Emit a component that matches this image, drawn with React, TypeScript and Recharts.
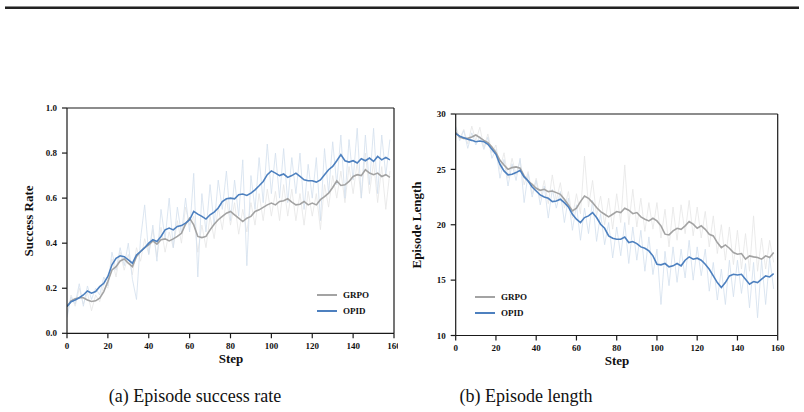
import React from 'react';
import { LineChart, Line, XAxis, YAxis, ReferenceLine, Legend } from 'recharts';

// ---------- data (every 2 steps: 0,2,...,158) ----------
const successOpid = [
  0.119, 0.14, 0.148, 0.158, 0.17, 0.188, 0.178, 0.185, 0.207, 0.222,
  0.252, 0.304, 0.333, 0.344, 0.34, 0.326, 0.311, 0.348, 0.363, 0.38,
  0.40, 0.415, 0.407, 0.43, 0.459, 0.467, 0.459, 0.474, 0.478, 0.489,
  0.504, 0.541, 0.529, 0.519, 0.507, 0.526, 0.538, 0.556, 0.585, 0.597,
  0.60, 0.597, 0.615, 0.618, 0.612, 0.622, 0.637, 0.655, 0.674, 0.704,
  0.721, 0.711, 0.70, 0.707, 0.692, 0.70, 0.711, 0.696, 0.681, 0.677,
  0.677, 0.671, 0.681, 0.704, 0.726, 0.741, 0.766, 0.793, 0.766, 0.76,
  0.766, 0.756, 0.775, 0.766, 0.778, 0.763, 0.785, 0.77, 0.781, 0.77,
];
const successGrpo = [
  0.119, 0.144, 0.153, 0.158, 0.158, 0.148, 0.141, 0.144, 0.156, 0.185,
  0.23, 0.281, 0.296, 0.321, 0.33, 0.311, 0.296, 0.341, 0.363, 0.38,
  0.393, 0.41, 0.396, 0.415, 0.419, 0.41, 0.419, 0.43, 0.444, 0.484,
  0.511, 0.481, 0.43, 0.425, 0.43, 0.459, 0.484, 0.504, 0.519, 0.533,
  0.541, 0.526, 0.511, 0.496, 0.511, 0.519, 0.541, 0.548, 0.559, 0.57,
  0.578, 0.57, 0.585, 0.588, 0.597, 0.582, 0.57, 0.573, 0.585, 0.57,
  0.578, 0.57, 0.593, 0.607, 0.622, 0.647, 0.677, 0.656, 0.659, 0.674,
  0.696, 0.704, 0.70, 0.726, 0.711, 0.704, 0.711, 0.696, 0.704, 0.692,
];
const successOpidRaw = [
  0.07, 0.16, 0.13, 0.22, 0.12, 0.21, 0.15, 0.2, 0.17, 0.25,
  0.21, 0.36, 0.28, 0.38, 0.3, 0.4, 0.24, 0.15, 0.42, 0.57,
  0.35, 0.48, 0.32, 0.55, 0.42, 0.6, 0.38, 0.56, 0.44, 0.6,
  0.45, 0.71, 0.25, 0.62, 0.45, 0.66, 0.48, 0.68, 0.55, 0.72,
  0.5, 0.68, 0.52, 0.77, 0.3, 0.7, 0.55, 0.78, 0.58, 0.84,
  0.62, 0.8, 0.6, 0.82, 0.58, 0.78, 0.62, 0.8, 0.55, 0.75,
  0.6, 0.78, 0.5, 0.82, 0.62, 0.85, 0.66, 0.88, 0.6, 0.86,
  0.68, 0.91, 0.6, 0.88, 0.66, 0.91, 0.62, 0.88, 0.7, 0.86,
];
const successGrpoRaw = [
  0.08, 0.17, 0.12, 0.2, 0.13, 0.18, 0.1, 0.17, 0.14, 0.22,
  0.2, 0.33, 0.25, 0.36, 0.28, 0.35, 0.26, 0.38, 0.32, 0.42,
  0.35, 0.46, 0.34, 0.47, 0.36, 0.45, 0.38, 0.5, 0.4, 0.56,
  0.48, 0.52, 0.36, 0.48, 0.38, 0.52, 0.42, 0.56, 0.46, 0.6,
  0.48, 0.58, 0.44, 0.55, 0.45, 0.58, 0.48, 0.62, 0.5, 0.64,
  0.52, 0.63, 0.5, 0.66, 0.52, 0.64, 0.5, 0.62, 0.48, 0.63,
  0.52, 0.62, 0.46, 0.66, 0.56, 0.7, 0.6, 0.72, 0.58, 0.74,
  0.62, 0.76, 0.6, 0.8, 0.62, 0.76, 0.58, 0.74, 0.55, 0.72,
];

const lengthOpid = [
  28.23, 28.0, 27.86, 27.71, 27.62, 27.5, 27.56, 27.5, 27.26, 26.81,
  26.36, 25.46, 24.86, 24.5, 24.56, 24.71, 24.92, 24.32, 23.95, 23.41,
  23.05, 22.69, 22.51, 22.39, 22.09, 22.15, 22.3, 22.0, 21.61, 20.95,
  20.5, 20.2, 20.65, 20.8, 21.1, 20.65, 20.05, 19.68, 18.99, 18.78,
  18.69, 18.69, 18.9, 18.39, 18.48, 18.3, 18.0, 17.88, 17.64, 17.19,
  16.44, 16.38, 16.5, 16.2, 16.29, 16.5, 16.29, 16.8, 17.1, 16.89,
  16.98, 16.8, 16.44, 15.98, 15.38, 14.78, 14.33, 14.78, 15.38, 15.53,
  15.47, 15.53, 15.08, 14.63, 14.87, 14.78, 15.08, 15.38, 15.29, 15.59,
];
const lengthGrpo = [
  28.32, 27.92, 27.8, 27.8, 27.92, 28.1, 27.86, 27.62, 27.41, 27.02,
  26.51, 25.82, 25.4, 25.0, 25.16, 25.22, 25.1, 24.41, 23.95, 23.65,
  23.29, 23.11, 23.2, 22.99, 23.05, 22.9, 22.75, 22.3, 21.79, 21.25,
  21.49, 22.09, 22.6, 22.39, 22.0, 21.55, 21.19, 20.95, 20.71, 20.95,
  21.19, 21.1, 21.49, 21.31, 21.0, 21.1, 20.71, 20.5, 20.35, 20.59,
  20.35, 19.9, 19.15, 19.08, 19.44, 19.68, 19.59, 19.9, 20.29, 20.05,
  19.68, 19.9, 19.59, 19.14, 18.99, 18.39, 17.94, 18.18, 17.88, 17.49,
  17.34, 17.4, 16.89, 17.19, 17.1, 17.04, 16.89, 17.19, 17.04, 17.49,
];
const lengthOpidRaw = [
  28.8, 27.6, 28.5, 26.9, 28.3, 27.2, 28.0, 26.8, 27.9, 26.0,
  26.8, 24.2, 25.9, 23.5, 25.5, 24.0, 26.0, 22.0, 24.6, 22.5,
  24.0, 21.8, 23.5, 20.6, 23.2, 21.5, 23.0, 20.2, 22.4, 19.5,
  21.8, 18.6, 21.5, 19.2, 22.2, 18.5, 21.0, 18.2, 20.2, 17.0,
  19.8, 17.2, 20.2, 16.5, 19.8, 16.8, 19.5, 15.8, 18.9, 15.5,
  17.8, 12.8, 17.6, 14.5, 18.0, 14.8, 17.8, 15.2, 18.6, 15.0,
  18.0, 15.4, 17.8, 14.0, 16.6, 13.2, 16.0, 12.8, 16.8, 13.5,
  16.8, 13.8, 16.5, 12.5, 16.6, 11.6, 16.8, 12.8, 17.0, 14.2,
];
const lengthGrpoRaw = [
  28.9, 27.8, 28.6, 27.3, 28.9, 27.6, 28.8, 27.0, 28.2, 26.5,
  27.2, 25.0, 26.5, 24.2, 26.0, 24.5, 25.8, 23.6, 24.8, 22.8,
  24.2, 22.4, 24.0, 21.9, 24.5, 22.2, 23.8, 21.5, 23.0, 20.6,
  22.8, 21.0, 26.2, 21.6, 24.0, 20.8, 22.6, 20.0, 22.4, 19.6,
  22.8, 20.2, 25.4, 20.0, 23.2, 19.8, 22.4, 19.4, 22.0, 19.6,
  22.0, 18.8, 21.4, 18.0, 21.6, 18.6, 21.8, 19.2, 22.2, 19.0,
  21.6, 18.8, 21.2, 18.0, 20.8, 17.4, 20.0, 16.8, 19.8, 16.4,
  19.5, 16.0, 19.2, 15.8, 20.8, 15.8, 18.8, 16.0, 18.6, 16.6,
];

const stepTicks = [0, 20, 40, 60, 80, 100, 120, 140, 160];
const successTicks = [0, 0.2, 0.4, 0.6, 0.8, 1.0];
const lengthTicks = [10, 15, 20, 25, 30];
const seriesNames = { grpo: 'GRPO', opid: 'OPID' };

const steps = successOpid.map((_, i) => i * 2);
const buildRows = (opid: number[], grpo: number[], opidRaw: number[], grpoRaw: number[]) =>
  steps.map((s, i) => ({ step: s, opid: opid[i], grpo: grpo[i], opidRaw: opidRaw[i], grpoRaw: grpoRaw[i] }));

const successRows = buildRows(successOpid, successGrpo, successOpidRaw, successGrpoRaw);
const lengthRows = buildRows(lengthOpid, lengthGrpo, lengthOpidRaw, lengthGrpoRaw);

const SERIF = '"Liberation Serif", "Times New Roman", Times, serif';
const BLUE = '#4d80bf';
const GRAY = '#a3a3a3';
const BLUE_RAW = '#d3dfee';
const GRAY_RAW = '#e6e6e6';
const AXIS = '#1a1a1a';

const tickStyle = { fontFamily: SERIF, fontSize: 9, fontWeight: 'bold', fill: '#111' } as any;

const LegendBox = (props: any) => {
  const items = (props.payload || []).filter((p: any) => p.type !== 'none');
  return (
    <div>
      {items.map((it: any) => (
        <div key={it.value} style={{ display: 'flex', alignItems: 'center', height: 16 }}>
          <svg width={20} height={4} style={{ display: 'block' }}>
            <line x1={0} y1={2} x2={20} y2={2} stroke={it.color} strokeWidth={2} />
          </svg>
          <span style={{ marginLeft: 6, fontFamily: SERIF, fontSize: 9, fontWeight: 'bold', color: '#111', lineHeight: '16px' }}>
            {it.value}
          </span>
        </div>
      ))}
    </div>
  );
};

type PanelProps = {
  rows: any[];
  yDomain: [number, number];
  yTicks: number[];
  yFmt: (v: number) => string;
  width: number;
  height: number;
  margin: any;
  yWidth: number;
  legendPos: { left: number; top: number };
};

const Panel = ({ rows, yDomain, yTicks, yFmt, width, height, margin, yWidth, legendPos }: PanelProps) => (
  <LineChart width={width} height={height} data={rows} margin={margin}>
    <XAxis
      dataKey="step"
      type="number"
      domain={[0, 160]}
      ticks={stepTicks}
      interval={0}
      height={30}
      tick={tickStyle}
      tickSize={5}
      tickMargin={4}
      stroke={AXIS}
      strokeWidth={1.2}
      allowDataOverflow
    />
    <YAxis
      type="number"
      domain={yDomain}
      ticks={yTicks}
      interval={0}
      width={yWidth}
      tick={tickStyle}
      tickSize={5}
      tickMargin={5}
      tickFormatter={yFmt}
      stroke={AXIS}
      strokeWidth={1.2}
      allowDataOverflow
    />
    <ReferenceLine y={yDomain[1]} stroke={AXIS} strokeWidth={1.2} />
    <ReferenceLine x={160} stroke={AXIS} strokeWidth={1.2} />
    <Line dataKey="grpoRaw" stroke={GRAY_RAW} strokeWidth={0.8} dot={false} legendType="none" isAnimationActive={false} />
    <Line dataKey="opidRaw" stroke={BLUE_RAW} strokeWidth={0.8} dot={false} legendType="none" isAnimationActive={false} />
    <Line dataKey="grpo" name={seriesNames.grpo} stroke={GRAY} strokeWidth={1.6} dot={false} isAnimationActive={false} />
    <Line dataKey="opid" name={seriesNames.opid} stroke={BLUE} strokeWidth={1.6} dot={false} isAnimationActive={false} />
    <Legend
      layout="vertical"
      align="center"
      verticalAlign="middle"
      content={<LegendBox />}
      wrapperStyle={{ left: legendPos.left, top: legendPos.top, width: 70, height: 32, right: 'auto', bottom: 'auto' }}
    />
  </LineChart>
);

const abs = (s: any) => ({ position: 'absolute', ...s }) as React.CSSProperties;
const titleStyle = { fontFamily: SERIF, fontWeight: 'bold', fontSize: 13, color: '#111', whiteSpace: 'nowrap' } as any;
const captionStyle = { fontFamily: SERIF, fontSize: 18, color: '#111', whiteSpace: 'nowrap' } as any;

export default function App() {
  return (
    <div style={abs({ left: 0, top: 0, width: 804, height: 412, background: '#fff', overflow: 'hidden' })}>
      <div style={abs({ left: 5, top: 6, width: 794, height: 1, background: '#8a8a8a' })} />
      <div style={abs({ left: 5, top: 7, width: 794, height: 1.5, background: '#222' })} />

      {/* left panel (right edge cropped like the reference figure) */}
      <div style={abs({ left: 0, top: 0, width: 398, height: 380, overflow: 'hidden' })}>
        <Panel
          rows={successRows}
          yDomain={[0, 1]}
          yTicks={successTicks}
          yFmt={(v) => v.toFixed(1)}
          width={420}
          height={380}
          margin={{ top: 108, right: 26, left: 27, bottom: 16.7 }}
          yWidth={40}
          legendPos={{ left: 317, top: 287 }}
        />
      </div>
      <div style={abs({ left: 29, top: 221, transform: 'translate(-50%, -50%) rotate(-90deg)', ...titleStyle })}>Success Rate</div>
      <div style={abs({ left: 231, top: 359, transform: 'translate(-50%, -50%)', ...titleStyle })}>Step</div>

      {/* right panel */}
      <div style={abs({ left: 400, top: 0, width: 404, height: 380 })}>
        <Panel
          rows={lengthRows}
          yDomain={[10, 30]}
          yTicks={lengthTicks}
          yFmt={(v) => String(v)}
          width={404}
          height={380}
          margin={{ top: 114, right: 26.3, left: 15.7, bottom: 14.5 }}
          yWidth={40}
          legendPos={{ left: 75, top: 288.5 }}
        />
      </div>
      <div style={abs({ left: 417, top: 225, transform: 'translate(-50%, -50%) rotate(-90deg)', ...titleStyle })}>Episode Length</div>
      <div style={abs({ left: 617, top: 361, transform: 'translate(-50%, -50%)', ...titleStyle })}>Step</div>

      {/* captions */}
      <div style={abs({ left: 195, top: 396, transform: 'translate(-50%, -50%)', ...captionStyle })}>(a) Episode success rate</div>
      <div style={abs({ left: 526, top: 396, transform: 'translate(-50%, -50%)', ...captionStyle })}>(b) Episode length</div>
    </div>
  );
}
